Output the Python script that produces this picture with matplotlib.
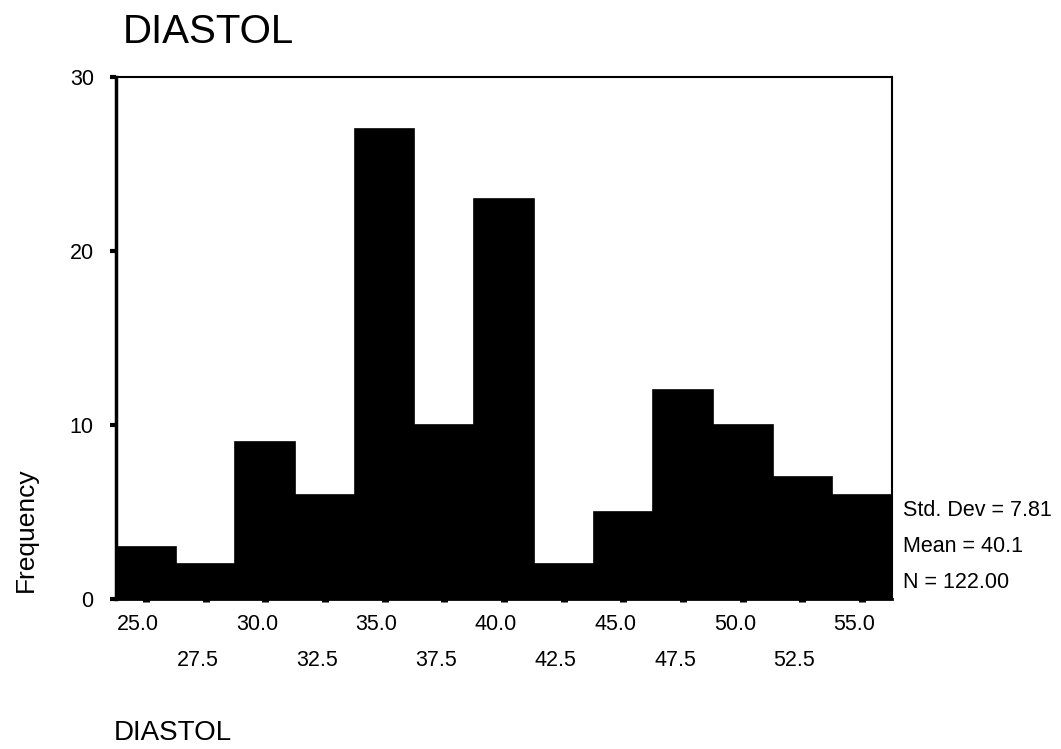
import numpy as np
import matplotlib.pyplot as plt
import matplotlib.transforms as mtransforms

plt.rcParams['font.family'] = ['Liberation Sans', 'DejaVu Sans']

# Histogram of DIASTOL
bin_centers = [25.0, 27.5, 30.0, 32.5, 35.0, 37.5, 40.0, 42.5, 45.0, 47.5, 50.0, 52.5, 55.0]
counts = [3, 2, 9, 6, 27, 10, 23, 2, 5, 12, 10, 7, 6]
row1_ticks = [25.0, 30.0, 35.0, 40.0, 45.0, 50.0, 55.0]
row2_ticks = [27.5, 32.5, 37.5, 42.5, 47.5, 52.5]
y_ticks = [0, 10, 20, 30]
stats = ['Std. Dev = 7.81', 'Mean = 40.1', 'N = 122.00']

fig = plt.figure(figsize=(10.61, 7.49), dpi=100)
ax = fig.add_axes([0.1093, 0.2003, 0.7314, 0.6969])

ax.bar(bin_centers, counts, width=2.5, color='black', edgecolor='black', linewidth=1.2)
ax.set_xlim(23.75, 56.25)
ax.set_ylim(0, 30)

ax.set_yticks(y_ticks)
ax.set_yticklabels([str(v) for v in y_ticks])
ax.set_xticks(row1_ticks)
ax.set_xticklabels(['%.1f' % v for v in row1_ticks])
ax.set_xticks(row2_ticks, minor=True)
ax.set_xticklabels(['%.1f' % v for v in row2_ticks], minor=True)

# short thick dashes for ticks, like the SPSS output
ax.tick_params(axis='y', direction='out', length=4, width=3, pad=12, labelsize=15.5)
ax.tick_params(axis='x', which='major', direction='out', length=2.5, width=5, pad=8, labelsize=15.5)
ax.tick_params(axis='x', which='minor', direction='out', length=2.5, width=5, pad=34, labelsize=15.5)

# labels sit a bit left of their ticks
shift = mtransforms.ScaledTranslation(-8 / 100, 0, fig.dpi_scale_trans)
for lab in ax.get_xticklabels(which='both'):
    lab.set_transform(lab.get_transform() + shift)

ax.spines['left'].set_linewidth(2.5)
ax.spines['bottom'].set_linewidth(2)
ax.spines['top'].set_linewidth(1.5)
ax.spines['right'].set_linewidth(1.5)

# stats text at right of the plot
for i, s in enumerate(stats):
    fig.text(0.851, 1 - (510 + i * 36) / 749, s, fontsize=15.5, va='center', ha='left')

fig.text(0.116, 1 - 43 / 749, 'DIASTOL', fontsize=29, va='baseline', ha='left')
fig.text(0.107, 1 - 740 / 749, 'DIASTOL', fontsize=20, va='baseline', ha='left')
fig.text(0.024, 1 - 530 / 749, 'Frequency', fontsize=19, rotation=90, va='center', ha='center')

fig.savefig('out.png', dpi=100)
